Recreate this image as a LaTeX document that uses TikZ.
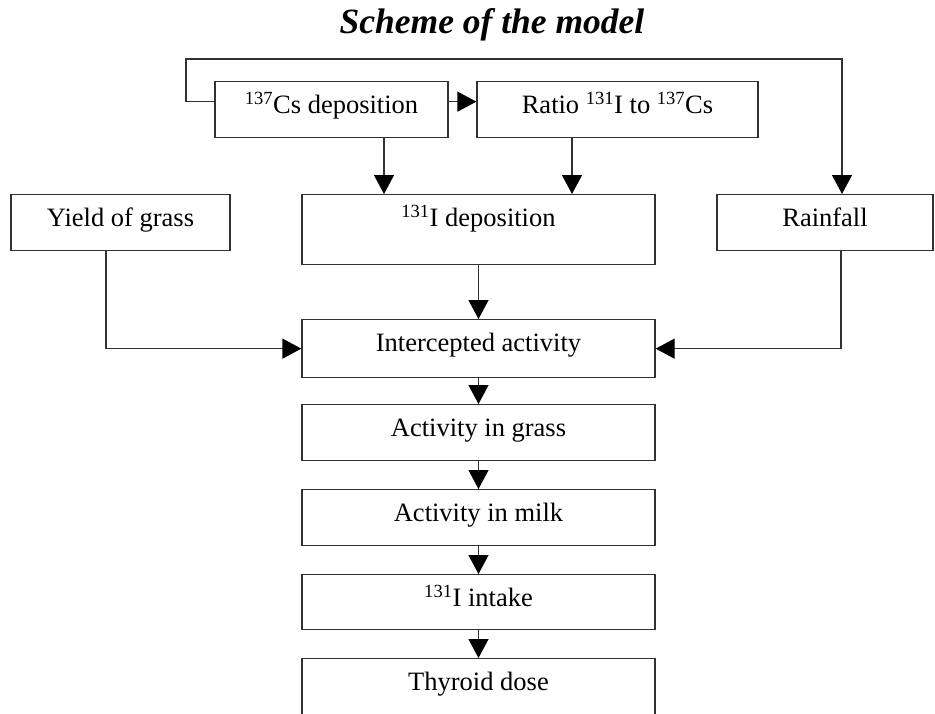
\documentclass[tikz,border=0pt]{standalone}
\usepackage{fontspec}
\setmainfont{Liberation Serif}
\usepackage{tikz}
\usetikzlibrary{arrows.meta,positioning}
\definecolor{edge}{RGB}{50,50,50}

\begin{document}
\begin{tikzpicture}[
    x=1pt, y=-1pt,
    box/.style={rectangle, draw=edge, line width=1.3pt, anchor=north, inner xsep=0pt, inner ysep=0pt, text height=32pt, text depth=24pt, font=\fontsize{26.5}{30}\selectfont},
    title/.style={anchor=base, font=\fontsize{35.5}{40}\selectfont\bfseries\itshape},
    arrow/.style={-{Triangle[width=20pt,length=19pt,color=black]}, line width=1.3pt, draw=edge}
]
    \useasboundingbox[fill=white] (0,0) rectangle (935,713);

    \node[title] (head) at (492,33) {Scheme of the model};

    \node[box, minimum width=233pt] (cs) at (331.5,81) {\textsuperscript{137}Cs deposition};
    \node[box, minimum width=281pt] (ratio) at (617.5,81) {Ratio \textsuperscript{131}I to \textsuperscript{137}Cs};
    \node[box, minimum width=219pt] (yield) at (120.5,194) {Yield of grass};
    \node[box, minimum width=353pt, text depth=38pt] (idep) at (478.5,194) {\textsuperscript{131}I deposition};
    \node[box, minimum width=216pt] (rain) at (825,194) {Rainfall};
    \node[box, minimum width=353pt, text depth=26pt] (inter) at (478.5,319) {Intercepted activity};
    \node[box, minimum width=353pt] (grass) at (478.5,404) {Activity in grass};
    \node[box, minimum width=353pt] (milk) at (478.5,489) {Activity in milk};
    \node[box, minimum width=353pt, text depth=23pt] (intake) at (478.5,574) {\textsuperscript{131}I intake};
    \node[box, minimum width=353pt, text depth=30pt] (dose) at (478.5,658) {Thyroid dose};

    \coordinate (loopL) at (186,59);
    \coordinate (loopR) at (842,59);

    \draw[arrow] ([yshift=8pt]cs.west) -| (loopL) -- (loopR) -- (loopR |- rain.north);
    \draw[arrow] ([yshift=8pt]cs.east) -- ([yshift=8pt]ratio.west);
    \draw[arrow] ([xshift=52.5pt]cs.south) -- ([xshift=52.5pt]cs.south |- idep.north);
    \draw[arrow] ([xshift=-45.5pt]ratio.south) -- ([xshift=-45.5pt]ratio.south |- idep.north);
    \draw[arrow] ([xshift=-14.5pt]yield.south) |- (inter.west);
    \draw[arrow] ([xshift=16pt]rain.south) |- (inter.east);
    \draw[arrow] (idep) -- (inter);
    \draw[arrow] (inter) -- (grass);
    \draw[arrow] (grass) -- (milk);
    \draw[arrow] (milk) -- (intake);
    \draw[arrow] (intake) -- (dose);
\end{tikzpicture}
\end{document}
